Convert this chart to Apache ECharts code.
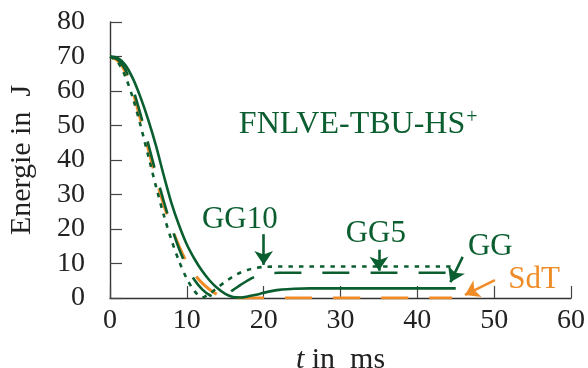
<!DOCTYPE html>
<html>
<head>
<meta charset="utf-8">
<script src="https://cdn.jsdelivr.net/npm/echarts@6/dist/echarts.min.js"></script>
<style>
  html, body { margin: 0; padding: 0; background: #fff; }
  #chart { width: 588px; height: 368px; }
</style>
</head>
<body>
<div id="chart"></div>
<script>
// Energy curves of the braking process, t in ms, E in J
const tGG   = [0,1,2,3,4,5,6,7,8,9,10,11,12,13,14,15,16,17,18,19,20,21,22,23,24,26,30,45];
const eGG   = [70,69.6,67.5,63.5,58,51.5,44,35.5,27.5,21,15.5,11.3,7.8,5,2.8,1.2,0.3,0.15,0.5,0.95,1.5,2.0,2.35,2.55,2.68,2.78,2.8,2.8];

const tGG5  = [0,1,2,3,4,5,6,7,8,9,10,11,12,13,14,15,16,17,18,19,20,21,22,44.5];
const eGG5  = [70,69.1,66.2,60.5,53,44.5,36,28,20.6,14.2,9.0,5.2,2.5,0.8,0.1,0.9,2.3,3.8,5.2,6.3,6.9,7.2,7.3,7.3];

const tGG10 = [0,1,2,3,4,5,6,7,8,9,10,11,12,13,14,15,16,17,18,19,20,21,22,44.5];
const eGG10 = [70,68.4,64.2,57.8,49.8,41,32.2,24,16.8,10.6,5.6,2.0,0.15,1.3,3.0,4.7,6.2,7.4,8.2,8.7,9.0,9.1,9.15,9.15];

const tSdT  = [0,1,2,3,4,5,6,7,8,9,10,11,12,13,14,15,16,44.5];
const eSdT  = [70,68.8,65.5,59.5,51.5,43,34.5,27,20.5,15,10.3,6.9,4.3,2.4,1.0,0.25,0,0];

const xTicks = [0,10,20,30,40,50,60];
const yTicks = [0,10,20,30,40,50,60,70,80];

const GREEN = '#0b5e2f';
const ORANGE = '#f08c28';
const FONT = 'Liberation Serif';

const pairs = (ts, es) => ts.map((t, i) => [t, es[i]]);

// arrow from a label towards the end of a curve
function arrow(from, to, color) {
  return {
    silent: true,
    animation: false,
    symbol: ['none', 'arrow'],
    symbolSize: 14,
    label: { show: false },
    itemStyle: { color: color },
    lineStyle: { color: color, width: 2.6, type: 'solid' },
    data: [[{ coord: from }, { coord: to }]]
  };
}

function tag(coord, text, color) {
  return {
    silent: true,
    animation: false,
    symbol: 'circle',
    symbolSize: 0,
    data: [{ coord: coord, value: 0 }],
    label: {
      show: true, position: 'inside', formatter: text,
      color: color, fontFamily: FONT, fontSize: 31
    }
  };
}

const chart = echarts.init(document.getElementById('chart'), null, { renderer: 'canvas' });

chart.setOption({
  animation: false,
  grid: { left: 110, right: 17, top: 22, bottom: 70, outerBoundsMode: 'none' },
  xAxis: {
    type: 'value', min: 0, max: 60, interval: 10,
    name: '{it|t} in  ms',
    nameLocation: 'middle', nameGap: 47,
    nameTextStyle: {
      fontFamily: FONT, fontSize: 30, color: '#222',
      rich: { it: { fontFamily: FONT, fontSize: 30, fontStyle: 'italic', color: '#222' } }
    },
    axisLine: { show: true, lineStyle: { color: '#333', width: 1.4 } },
    axisTick: { show: true, inside: true, length: 12, lineStyle: { color: '#444', width: 1.2 } },
    splitLine: { show: false },
    axisLabel: {
      margin: 9, fontFamily: FONT, fontSize: 28, color: '#222',
      formatter: v => xTicks.includes(v) ? String(v) : ''
    }
  },
  yAxis: {
    type: 'value', min: 0, max: 80, interval: 10,
    name: 'Energie in  J',
    nameLocation: 'middle', nameGap: 73, nameRotate: 90,
    nameTextStyle: { fontFamily: FONT, fontSize: 30, color: '#222' },
    axisLine: { show: true, lineStyle: { color: '#333', width: 1.4 } },
    axisTick: { show: true, inside: true, length: 12, lineStyle: { color: '#444', width: 1.2 } },
    splitLine: { show: false },
    axisLabel: {
      margin: 25, fontFamily: FONT, fontSize: 28, color: '#222',
      formatter: v => yTicks.includes(v) ? String(v) : ''
    }
  },
  series: [
    {
      name: 'SdT', type: 'line', data: pairs(tSdT, eSdT),
      showSymbol: false, smooth: 0.3, z: 3,
      lineStyle: { color: ORANGE, width: 3, type: [27, 21] },
      markLine: arrow([50.1, 5.2], [46.2, 0.9], ORANGE),
      markPoint: tag([55.2, 5.4], 'SdT', ORANGE)
    },
    {
      name: 'GG10', type: 'line', data: pairs(tGG10, eGG10),
      showSymbol: false, smooth: 0.3, z: 4,
      lineStyle: { color: GREEN, width: 2.6, type: [4.5, 6] },
      markLine: arrow([20, 18.5], [20, 9.6], GREEN),
      markPoint: tag([16.9, 22.6], 'GG10', GREEN)
    },
    {
      name: 'GG5', type: 'line', data: pairs(tGG5, eGG5),
      showSymbol: false, smooth: 0.3, z: 4,
      lineStyle: { color: GREEN, width: 2.6, type: [27, 21] },
      markLine: arrow([35, 14], [35, 7.9], GREEN),
      markPoint: tag([34.6, 18.6], 'GG5', GREEN)
    },
    {
      name: 'GG', type: 'line', data: pairs(tGG, eGG),
      showSymbol: false, smooth: 0.3, z: 5,
      lineStyle: { color: GREEN, width: 2.6, type: 'solid' },
      markLine: arrow([45.9, 11.9], [44.3, 4.6], GREEN),
      markPoint: {
        silent: true, animation: false, symbol: 'circle', symbolSize: 0,
        data: [
          { coord: [49.5, 14.8], value: 0, label: { formatter: 'GG' } },
          { coord: [32.3, 50.2], value: 0, label: { formatter: '{a|FNLVE-TBU-HS}{s|+}' } }
        ],
        label: {
          show: true, position: 'inside',
          color: GREEN, fontFamily: FONT, fontSize: 31,
          rich: {
            a: { color: GREEN, fontFamily: FONT, fontSize: 32 },
            s: { color: GREEN, fontFamily: FONT, fontSize: 20, padding: [0, 0, 15, 1] }
          }
        }
      }
    }
  ]
});
</script>
</body>
</html>
